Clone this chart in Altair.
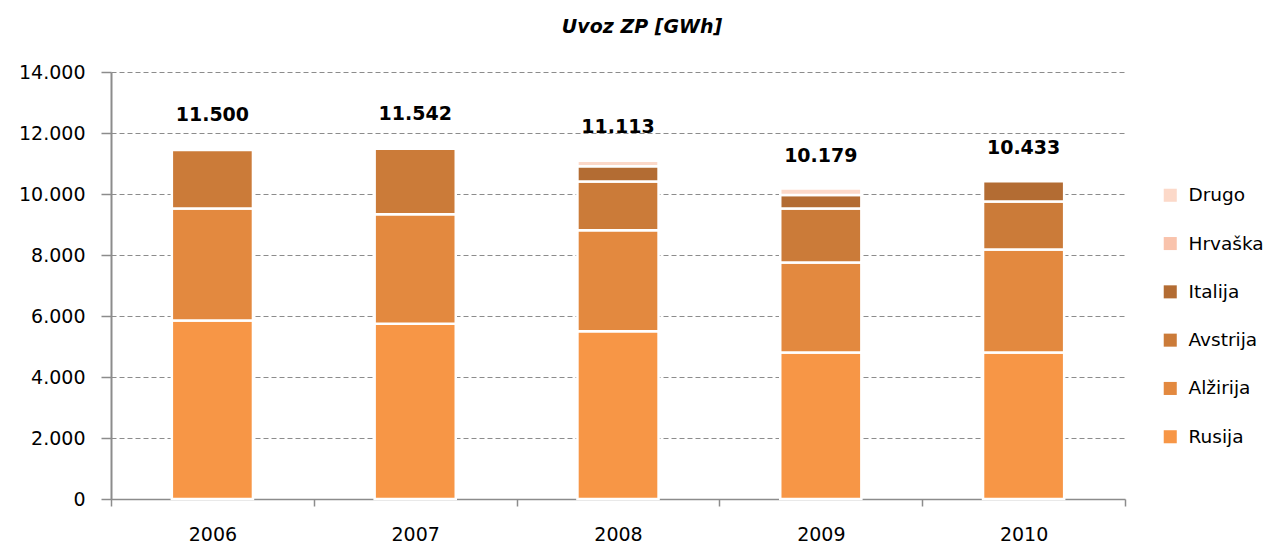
import altair as alt
import pandas as pd

years = ["2006", "2007", "2008", "2009", "2010"]
series = ["Drugo", "Hrvaška", "Italija", "Avstrija", "Alžirija", "Rusija"]
rusija = [5850, 5745, 5500, 4805, 4805]
alzirija = [3675, 3590, 3310, 2950, 3375]
avstrija = [1920, 2150, 1600, 1770, 1575]
italija = [0, 0, 500, 440, 665]
hrvaska = [0, 0, 0, 0, 0]
drugo = [0, 0, 180, 215, 0]
totals = [11500, 11542, 11113, 10179, 10433]
colors = ["#FCD9C9", "#F9C3AC", "#B36C33", "#CB7B39", "#E3893F", "#F79646"]

values = {
    "Rusija": rusija, "Alžirija": alzirija, "Avstrija": avstrija,
    "Italija": italija, "Hrvaška": hrvaska, "Drugo": drugo,
}
stack_order = ["Rusija", "Alžirija", "Avstrija", "Italija", "Hrvaška", "Drugo"]

rows = []
for i, y in enumerate(years):
    for k, s in enumerate(stack_order):
        v = values[s][i]
        if v > 0:
            rows.append({"year": y, "series": s, "value": v, "ord": k})
df = pd.DataFrame(rows)
tot_df = pd.DataFrame({"year": years, "total": totals})

FONT = "DejaVu Sans"
GRAY = "#8c8c8c"

x_enc = alt.X(
    "year:N",
    scale=alt.Scale(domain=years, paddingInner=0, paddingOuter=0),
    axis=alt.Axis(
        title=None, labelAngle=0, tickBand="extent", grid=False,
        domainColor=GRAY, domainWidth=1.5, tickColor=GRAY, tickWidth=1.5,
        tickSize=7, labelPadding=19, labelFont=FONT, labelFontSize=19,
        labelColor="#000000",
    ),
)

bars = alt.Chart(df).mark_bar(
    width=alt.RelativeBandSize(0.4), stroke="white", strokeWidth=2.5
).encode(
    x=x_enc,
    y=alt.Y(
        "value:Q",
        stack="zero",
        scale=alt.Scale(domain=[0, 14000], nice=False),
        axis=alt.Axis(
            title=None, values=list(range(0, 14001, 2000)),
            labelExpr="replace(format(datum.value, ',.0f'), ',', '.')",
            grid=True, gridDash=[5, 3], gridColor=GRAY, gridWidth=1,
            domainColor=GRAY, domainWidth=2, tickColor=GRAY, tickWidth=1.5,
            tickSize=10, labelPadding=16, labelFont=FONT, labelFontSize=19,
            labelColor="#000000",
        ),
    ),
    color=alt.Color(
        "series:N",
        scale=alt.Scale(domain=series, range=colors),
        legend=alt.Legend(
            title=None, orient="none", legendX=1050, legendY=114,
            symbolType="square", symbolSize=170, symbolStrokeWidth=0,
            labelFont=FONT, labelFontSize=18.5, labelColor="#000000",
            labelOffset=9, rowPadding=29.3, padding=0,
        ),
    ),
    order=alt.Order("ord:Q", sort="ascending"),
)

labels = alt.Chart(tot_df).transform_calculate(
    txt="replace(format(datum.total, ',.0f'), ',', '.')"
).mark_text(
    font=FONT, fontSize=19, fontWeight="bold", color="#000000",
    baseline="middle", dy=-33,
).encode(
    x=alt.X("year:N"),
    y=alt.Y("total:Q"),
    text="txt:N",
)

chart = alt.layer(bars, labels).properties(
    width=1014,
    height=427,
    title=alt.TitleParams(
        "Uvoz ZP  [GWh]", font=FONT, fontSize=19, fontWeight="bold",
        fontStyle="italic", color="#000000", dx=24, offset=26,
    ),
    padding={"left": 103, "top": 64, "right": 144, "bottom": 46},
    autosize="none",
).configure_view(stroke=None)

chart.save("out.html", embed_options={"renderer": "svg", "actions": False})
